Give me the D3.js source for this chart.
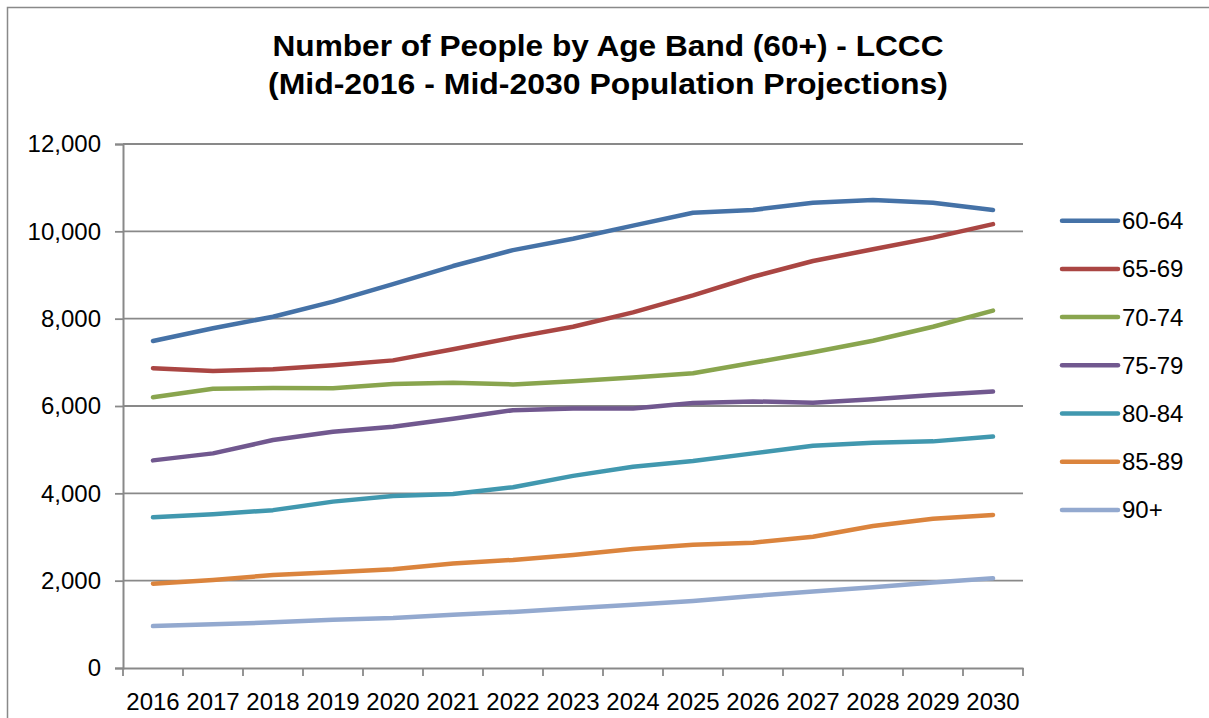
<!DOCTYPE html>
<html>
<head>
<meta charset="utf-8">
<script src="https://cdn.jsdelivr.net/npm/d3@7.9.0/dist/d3.min.js"></script>
<style>
  html, body { margin: 0; padding: 0; background: #fff; }
  svg { display: block; font-family: "Liberation Sans", Arial, sans-serif; }
</style>
</head>
<body>
<div id="chart"></div>
<script>
// chart data
const years = ['2016', '2017', '2018', '2019', '2020', '2021', '2022', '2023',
  '2024', '2025', '2026', '2027', '2028', '2029', '2030'];

const ageBands = ['60-64', '65-69', '70-74', '75-79', '80-84', '85-89', '90+'];

const band6064 = [7490, 7780, 8045, 8390, 8790, 9205, 9570, 9830, 10130, 10425, 10490, 10655, 10715, 10655, 10490];
const band6569 = [6865, 6800, 6840, 6935, 7045, 7300, 7565, 7815, 8145, 8535, 8960, 9320, 9590, 9855, 10165];
const band7074 = [6200, 6395, 6410, 6405, 6505, 6535, 6495, 6565, 6655, 6750, 6990, 7230, 7495, 7815, 8185];
const band7579 = [4755, 4915, 5220, 5410, 5525, 5710, 5905, 5940, 5945, 6070, 6105, 6075, 6155, 6250, 6330];
const band8084 = [3450, 3520, 3615, 3810, 3940, 3985, 4140, 4400, 4610, 4740, 4915, 5090, 5160, 5190, 5300];
const band8589 = [1930, 2015, 2130, 2190, 2260, 2395, 2475, 2590, 2725, 2825, 2870, 3005, 3250, 3420, 3505];
const band90 = [960, 1000, 1045, 1105, 1145, 1220, 1285, 1370, 1450, 1535, 1650, 1750, 1850, 1960, 2055];

const yTicks = [0, 2000, 4000, 6000, 8000, 10000, 12000];

const titleLines = ['Number of People by Age Band (60+) - LCCC',
  '(Mid-2016 - Mid-2030 Population Projections)'];

const colors = ['#4572A7', '#AA4643', '#89A54E', '#71588F', '#4198AF', '#DB843D', '#93A9CF'];

const series = ageBands.map((name, i) => ({
  name,
  color: colors[i],
  values: [band6064, band6569, band7074, band7579, band8084, band8589, band90][i]
}));

const width = 1209;
const height = 718;
const plot = { left: 123, right: 1023, top: 144, bottom: 668 };
const axisGrey = '#898989';

const svg = d3.select('#chart')
  .append('svg')
  .attr('width', width)
  .attr('height', height);

// outer chart border (right and bottom run off the picture)
svg.append('rect')
  .attr('x', 7.5)
  .attr('y', 7.5)
  .attr('width', width + 10)
  .attr('height', height + 10)
  .attr('fill', 'none')
  .attr('stroke', axisGrey)
  .attr('stroke-width', 1.5);

// title
svg.append('g')
  .selectAll('text')
  .data(titleLines)
  .join('text')
  .attr('x', 608)
  .attr('y', (d, i) => 56 + i * 38)
  .attr('text-anchor', 'middle')
  .attr('font-weight', 'bold')
  .attr('font-size', 30)
  .attr('textLength', (d, i) => (i === 0 ? 671 : 680))
  .attr('lengthAdjust', 'spacingAndGlyphs')
  .attr('fill', '#000')
  .text((d) => d);

// scales
const xScale = d3.scaleBand()
  .domain(years)
  .range([plot.left, plot.right]);

const yScale = d3.scaleLinear()
  .domain([0, 12000])
  .range([plot.bottom, plot.top]);

const xMid = (year) => xScale(year) + xScale.bandwidth() / 2;

// gridlines
svg.append('g')
  .attr('class', 'gridlines')
  .selectAll('line')
  .data(yTicks.filter((d) => d > 0))
  .join('line')
  .attr('x1', plot.left)
  .attr('x2', plot.right)
  .attr('y1', (d) => yScale(d))
  .attr('y2', (d) => yScale(d))
  .attr('stroke', axisGrey)
  .attr('stroke-width', 1.8);

// y axis
const yAxis = svg.append('g')
  .attr('transform', `translate(${plot.left},0)`)
  .call(
    d3.axisLeft(yScale)
      .tickValues(yTicks)
      .tickSize(8)
      .tickPadding(14)
      .tickFormat(d3.format(','))
  );
yAxis.select('.domain').attr('stroke', axisGrey).attr('stroke-width', 2);
yAxis.selectAll('.tick line').attr('stroke', axisGrey).attr('stroke-width', 1.8);
yAxis.selectAll('.tick text')
  .attr('font-size', 24)
  .attr('font-family', '"Liberation Sans", Arial, sans-serif')
  .attr('fill', '#000');

// x axis: labels at band centres, ticks at band edges
const xAxis = svg.append('g')
  .attr('transform', `translate(0,${plot.bottom})`)
  .call(
    d3.axisBottom(xScale)
      .tickSize(0)
      .tickPadding(25)
  );
xAxis.select('.domain').attr('stroke', axisGrey).attr('stroke-width', 2);
xAxis.selectAll('.tick text')
  .attr('font-size', 24)
  .attr('font-family', '"Liberation Sans", Arial, sans-serif')
  .attr('fill', '#000');

xAxis.append('g')
  .selectAll('line')
  .data(years.map((y) => xScale(y)).concat([plot.right]))
  .join('line')
  .attr('x1', (d) => d)
  .attr('x2', (d) => d)
  .attr('y1', 0)
  .attr('y2', 8)
  .attr('stroke', axisGrey)
  .attr('stroke-width', 1.8);

// series lines
const line = d3.line()
  .x((d, i) => xMid(years[i]))
  .y((d) => yScale(d));

svg.append('g')
  .attr('class', 'lines')
  .selectAll('path')
  .data(series.slice().reverse())
  .join('path')
  .attr('d', (d) => line(d.values))
  .attr('fill', 'none')
  .attr('stroke', (d) => d.color)
  .attr('stroke-width', 4.5)
  .attr('stroke-linecap', 'round')
  .attr('stroke-linejoin', 'round');

// legend
const legend = svg.append('g')
  .attr('class', 'legend')
  .selectAll('g')
  .data(series)
  .join('g')
  .attr('transform', (d, i) => `translate(1062,${220.7 + i * 48.2})`);

legend.append('line')
  .attr('x1', 0)
  .attr('x2', 56)
  .attr('stroke', (d) => d.color)
  .attr('stroke-width', 4.5)
  .attr('stroke-linecap', 'round');

legend.append('text')
  .attr('x', 60)
  .attr('y', 8.5)
  .attr('font-size', 24)
  .attr('fill', '#000')
  .text((d) => d.name);
</script>
</body>
</html>
